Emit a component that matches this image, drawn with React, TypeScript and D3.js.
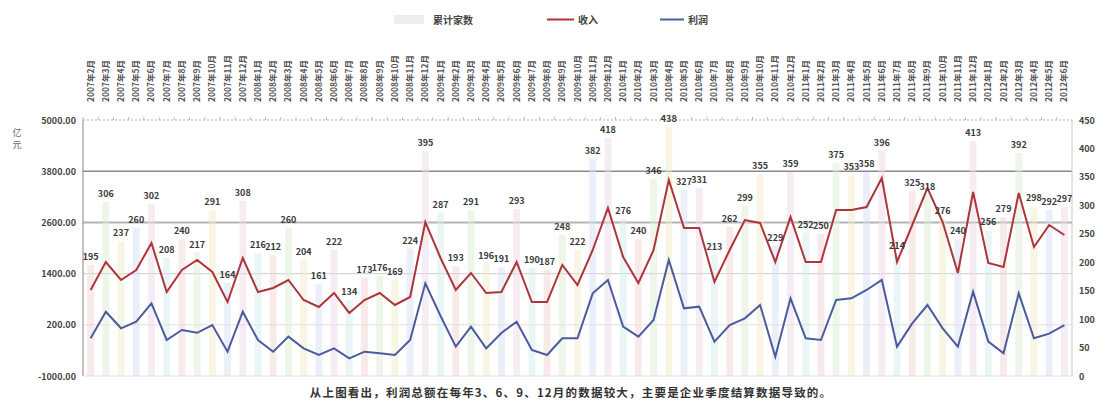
import React from 'react';
import * as d3 from 'd3';

const categories = [
  '2007年2月','2007年3月','2007年4月','2007年5月','2007年6月','2007年7月','2007年8月','2007年9月','2007年10月','2007年11月','2007年12月',
  '2008年1月','2008年2月','2008年3月','2008年4月','2008年5月','2008年6月','2008年7月','2008年8月','2008年9月','2008年10月','2008年11月','2008年12月',
  '2009年1月','2009年2月','2009年3月','2009年4月','2009年5月','2009年6月','2009年7月','2009年8月','2009年9月','2009年10月','2009年11月','2009年12月',
  '2010年1月','2010年2月','2010年3月','2010年4月','2010年5月','2010年6月','2010年7月','2010年8月','2010年9月','2010年10月','2010年11月','2010年12月',
  '2011年1月','2011年2月','2011年3月','2011年4月','2011年5月','2011年6月','2011年7月','2011年8月','2011年9月','2011年10月','2011年11月','2011年12月',
  '2012年1月','2012年2月','2012年3月','2012年4月','2012年5月','2012年6月'
];

const households = [195,306,237,260,302,208,240,217,291,164,308,216,212,260,204,161,222,134,173,176,169,224,395,287,193,291,196,191,293,190,187,248,222,382,418,276,240,346,438,327,331,213,262,299,355,229,359,252,250,375,353,358,396,214,325,318,276,240,413,256,279,392,298,292,297];

const income = [1016,1672,1250,1484,2117,969,1484,1719,1438,734,1766,969,1063,1250,781,617,945,477,781,945,664,852,2609,1766,1016,1414,945,969,1672,734,734,1602,1133,1953,2938,1789,1180,1953,3594,2469,2469,1203,1953,2656,2586,1672,2727,1672,1672,2891,2891,2961,3641,1672,2539,3406,2609,1414,3313,1648,1555,3289,2023,2539,2305];

const profit = [-116,507,118,273,704,-156,78,12,195,-430,507,-156,-430,-78,-352,-508,-352,-586,-430,-469,-508,-156,1172,406,-312,156,-352,8,273,-391,-508,-116,-116,937,1250,156,-78,313,1719,586,625,-195,195,352,664,-547,820,-116,-156,781,820,1016,1250,-312,234,664,118,-312,977,-195,-469,937,-116,-6,195];

const leftTicks = [-1000, 200, 1400, 2600, 3800, 5000];
const rightTicks = [0, 50, 100, 150, 200, 250, 300, 350, 400, 450];
const legendLabels = ['累计家数', '收入', '利润'];
const leftUnit = ['亿', '元'];
const caption = '从上图看出，利润总额在每年3、6、9、12月的数据较大，主要是企业季度结算数据导致的。';

const barColors = ['#f3d6d6', '#dcedd3', '#f3ecc9', '#d6e0f3', '#eedaea', '#d5ecec'];
const RED = '#ad353b';
const BLUE = '#4a5c9e';
const FONT = '"Noto Sans CJK SC", "Noto Sans", sans-serif';

export default function App() {
  const W = 1099, H = 406;
  const left = 83, right = 1072, top = 120, bottom = 376;

  const x = d3.scaleBand<string>().domain(categories).range([left, right]).paddingInner(0.55).paddingOuter(0.275);
  const cx = (i: number) => (x(categories[i]) as number) + x.bandwidth() / 2;
  const yL = d3.scaleLinear().domain([-1000, 5000]).range([bottom, top]);
  const yR = d3.scaleLinear().domain([0, 450]).range([bottom, top]);

  const line = d3.line<number>().x((_, i) => cx(i)).y((d) => yL(d));

  const gridStyle: Record<number, { stroke: string; w: number }> = {
    200: { stroke: '#e8dede', w: 1 },
    1400: { stroke: '#d6d6d6', w: 1.2 },
    2600: { stroke: '#b4b4b4', w: 2 },
    3800: { stroke: '#8a8a8a', w: 1.5 },
  };

  return (
    <svg width={W} height={H} style={{ position: 'absolute', left: 0, top: 0, background: '#fff' }} fontFamily={FONT}>
      {/* legend */}
      <g fontSize={10} fontWeight="bold" fill="#444">
        <rect x={394} y={15} width={30} height={9} fill="#ededed" />
        <text x={433} y={23.5}>{legendLabels[0]}</text>
        <line x1={547} x2={574} y1={19.5} y2={19.5} stroke={RED} strokeWidth={2} />
        <text x={578} y={23.5}>{legendLabels[1]}</text>
        <line x1={660} x2={684} y1={19.5} y2={19.5} stroke={BLUE} strokeWidth={2} />
        <text x={688} y={23.5}>{legendLabels[2]}</text>
      </g>

      {/* top category labels */}
      <g fontSize={8.5} fontWeight="bold" fill="#555">
        {categories.map((c, i) => (
          <text key={c} transform={`translate(${cx(i) + 3},${102}) rotate(-90)`} textAnchor="start">
            {c}
          </text>
        ))}
      </g>

      {/* gridlines */}
      {leftTicks.filter((t) => gridStyle[t]).map((t) => (
        <line key={t} x1={left} x2={right} y1={yL(t)} y2={yL(t)} stroke={gridStyle[t].stroke} strokeWidth={gridStyle[t].w} />
      ))}

      {/* bars */}
      {households.map((v, i) => (
        <rect
          key={i}
          x={x(categories[i]) as number}
          y={yR(v)}
          width={x.bandwidth()}
          height={yR(0) - yR(v)}
          fill={barColors[i % barColors.length]}
          opacity={0.5}
        />
      ))}

      {/* frame */}
      <line x1={left} x2={right} y1={top} y2={top} stroke="#d4a2a2" strokeWidth={1.2} strokeDasharray="2,2" />
      {categories.map((c, i) => (
        <line key={c} x1={(x(c) as number) - x.step() * 0.275} x2={(x(c) as number) - x.step() * 0.275} y1={top - 3} y2={top} stroke="#c9a0a0" strokeWidth={0.8} />
      ))}
      <line x1={left} x2={left} y1={top} y2={bottom} stroke="#9a9a9a" strokeWidth={1.2} />
      <line x1={right} x2={right} y1={top} y2={bottom} stroke="#c8c8c8" strokeWidth={1} />
      <line x1={left} x2={right} y1={bottom} y2={bottom} stroke="#e2dede" strokeWidth={1} />

      {/* lines */}
      <path d={line(income) as string} fill="none" stroke={RED} strokeWidth={2} />
      <path d={line(profit) as string} fill="none" stroke={BLUE} strokeWidth={2} />

      {/* bar labels */}
      <g fontSize={9} fontWeight="bold" fill="#3a3a3a" textAnchor="middle">
        {households.map((v, i) => (
          <text key={i} x={cx(i)} y={yR(v) - 5}>{v}</text>
        ))}
      </g>

      {/* left axis */}
      <g fontSize={9} fontWeight="bold" fill="#444" textAnchor="end">
        {leftTicks.map((t) => (
          <text key={t} x={76} y={yL(t) + 3.5}>{t.toFixed(2)}</text>
        ))}
      </g>
      <g fontSize={9} fill="#666" textAnchor="middle">
        {leftUnit.map((u, i) => (
          <text key={u} x={17} y={136 + i * 12}>{u}</text>
        ))}
      </g>

      {/* right axis */}
      <g fontSize={9} fontWeight="bold" fill="#444" textAnchor="start">
        {rightTicks.map((t) => (
          <text key={t} x={1079} y={yR(t) + 3.5}>{t}</text>
        ))}
      </g>

      {/* caption */}
      <text x={571} y={397} fontSize={11.5} fontWeight="bold" fill="#333" textAnchor="middle" letterSpacing={1.2}>{caption}</text>
    </svg>
  );
}
